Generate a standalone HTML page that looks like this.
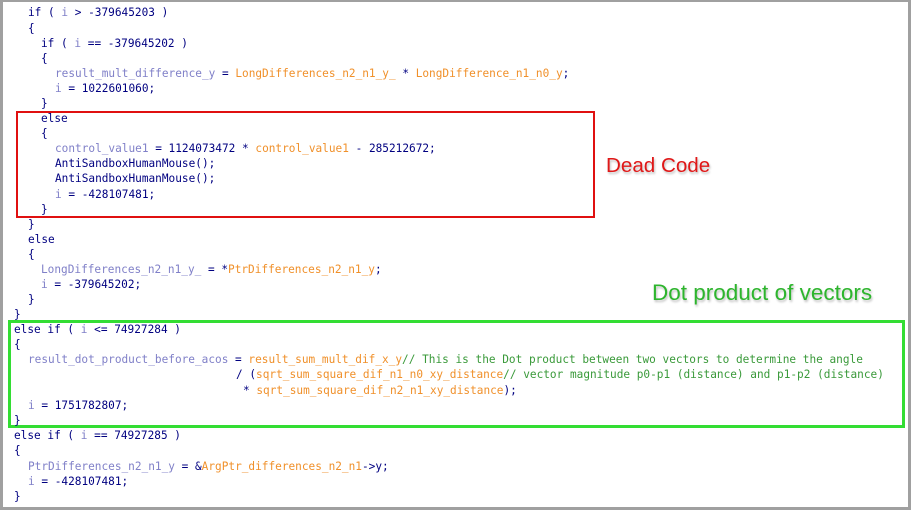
<!DOCTYPE html>
<html><head><meta charset="utf-8"><style>
body{margin:0;width:911px;height:511px;overflow:hidden;background:#fff;position:relative}
#frame{position:absolute;left:0;top:0;width:905px;height:505px;border:3px solid #a0a0a0;border-top:2px solid #a0a0a0;background:#fff}
.l{position:absolute;font-family:"DejaVu Sans Mono","Liberation Mono",monospace;font-size:11.1px;line-height:15px;white-space:pre;color:#000080;height:15px}
.v{color:#8080c8}.g{color:#f0902a}.c{color:#3a9a3a}
.box{position:absolute;box-sizing:border-box}
.lab{position:absolute;font-family:"Liberation Sans",sans-serif;font-size:20px;text-shadow:1px 2px 2px rgba(0,0,0,.25)}
</style></head><body>
<div id="frame"></div>
<div class="box" style="left:16px;top:111px;width:579px;height:107px;border:2.5px solid #e01010"></div>
<div class="box" style="left:8px;top:320px;width:897px;height:108px;border:3px solid #33dd33"></div>
<div class="lab" style="left:606px;top:154px;color:#e01818;font-size:20.6px">Dead Code</div>
<div class="lab" style="left:652px;top:280px;color:#2db52d;font-size:22.5px">Dot product of vectors</div>

<div class="l" style="left:28px;top:5px">if ( <span class="v">i</span> &gt; -379645203 )</div>
<div class="l" style="left:28px;top:21px">{</div>
<div class="l" style="left:41px;top:36px">if ( <span class="v">i</span> == -379645202 )</div>
<div class="l" style="left:41px;top:51px">{</div>
<div class="l" style="left:55px;top:66px"><span class="v">result_mult_difference_y</span> = <span class="g">LongDifferences_n2_n1_y_</span> * <span class="g">LongDifference_n1_n0_y</span>;</div>
<div class="l" style="left:55px;top:81px"><span class="v">i</span> = 1022601060;</div>
<div class="l" style="left:41px;top:96px">}</div>
<div class="l" style="left:41px;top:111px">else</div>
<div class="l" style="left:41px;top:126px">{</div>
<div class="l" style="left:55px;top:141px"><span class="v">control_value1</span> = 1124073472 * <span class="g">control_value1</span> - 285212672;</div>
<div class="l" style="left:55px;top:156px">AntiSandboxHumanMouse();</div>
<div class="l" style="left:55px;top:171px">AntiSandboxHumanMouse();</div>
<div class="l" style="left:55px;top:187px"><span class="v">i</span> = -428107481;</div>
<div class="l" style="left:41px;top:202px">}</div>
<div class="l" style="left:28px;top:217px">}</div>
<div class="l" style="left:28px;top:232px">else</div>
<div class="l" style="left:28px;top:247px">{</div>
<div class="l" style="left:41px;top:262px"><span class="v">LongDifferences_n2_n1_y_</span> = *<span class="g">PtrDifferences_n2_n1_y</span>;</div>
<div class="l" style="left:41px;top:277px"><span class="v">i</span> = -379645202;</div>
<div class="l" style="left:28px;top:292px">}</div>
<div class="l" style="left:14px;top:307px">}</div>
<div class="l" style="left:14px;top:322px">else if ( <span class="v">i</span> &lt;= 74927284 )</div>
<div class="l" style="left:14px;top:337px">{</div>
<div class="l" style="left:28px;top:352px"><span class="v">result_dot_product_before_acos</span> = <span class="g">result_sum_mult_dif_x_y</span><span class="c">// This is the Dot product between two vectors to determine the angle</span></div>
<div class="l" style="left:236px;top:367px">/ (<span class="g">sqrt_sum_square_dif_n1_n0_xy_distance</span><span class="c">// vector magnitude p0-p1 (distance) and p1-p2 (distance)</span></div>
<div class="l" style="left:243px;top:383px">* <span class="g">sqrt_sum_square_dif_n2_n1_xy_distance</span>);</div>
<div class="l" style="left:28px;top:398px"><span class="v">i</span> = 1751782807;</div>
<div class="l" style="left:14px;top:413px">}</div>
<div class="l" style="left:14px;top:428px">else if ( <span class="v">i</span> == 74927285 )</div>
<div class="l" style="left:14px;top:443px">{</div>
<div class="l" style="left:28px;top:459px"><span class="v">PtrDifferences_n2_n1_y</span> = &amp;<span class="g">ArgPtr_differences_n2_n1</span>-&gt;y;</div>
<div class="l" style="left:28px;top:474px"><span class="v">i</span> = -428107481;</div>
<div class="l" style="left:14px;top:489px">}</div>
</body></html>
